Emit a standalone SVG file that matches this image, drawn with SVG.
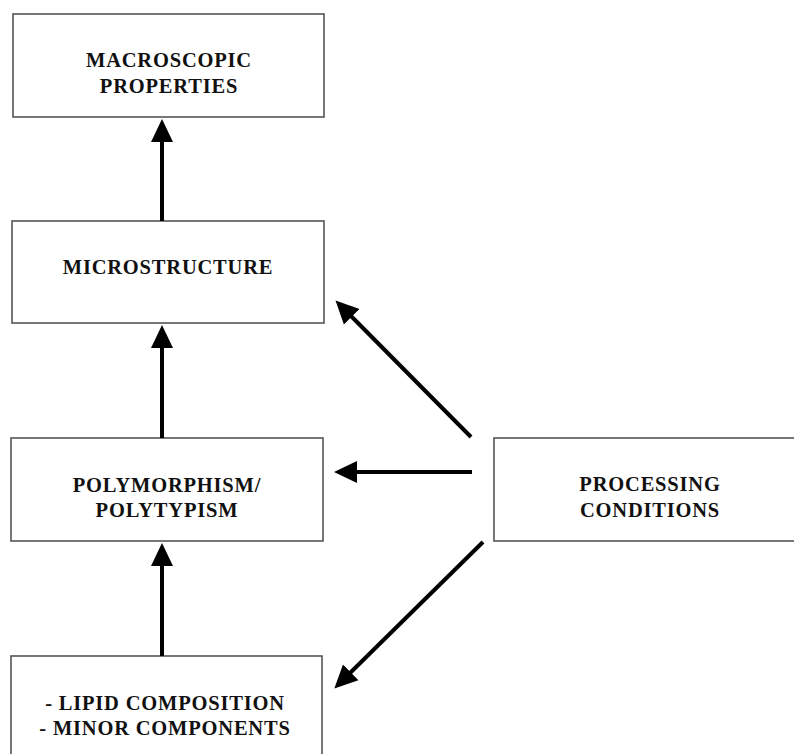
<svg xmlns="http://www.w3.org/2000/svg" width="794" height="754" viewBox="0 0 794 754">
<style>
.box{fill:#fff;stroke:#555;stroke-width:1.6}
.t{font-family:"Liberation Serif","Times New Roman",serif;font-weight:bold;font-size:20.5px;fill:#111;text-anchor:middle;letter-spacing:0.8px}
.a{stroke:#000;stroke-width:4;fill:none}
</style>
<defs>
<marker id="ah" markerUnits="userSpaceOnUse" markerWidth="24" markerHeight="24" viewBox="0 0 24 24" refX="1" refY="12" orient="auto">
<path d="M0,1 L23,12 L0,23 z" fill="#000"/>
</marker>
</defs>
<rect width="794" height="754" fill="#fff"/>
<g id="macroscopic">
<rect class="box" x="13" y="14" width="311" height="103"/>
<text class="t" x="169" y="67">MACROSCOPIC</text>
<text class="t" x="169" y="93">PROPERTIES</text>
</g>
<g id="microstructure">
<rect class="box" x="12" y="221" width="312" height="102"/>
<text class="t" x="168" y="274">MICROSTRUCTURE</text>
</g>
<g id="polymorphism">
<rect class="box" x="11" y="438" width="312" height="103"/>
<text class="t" x="167" y="492">POLYMORPHISM/</text>
<text class="t" x="167" y="517">POLYTYPISM</text>
</g>
<g id="lipid">
<rect class="box" x="11" y="656" width="311" height="110"/>
<text class="t" x="165" y="710">- LIPID COMPOSITION</text>
<text class="t" x="165" y="735">- MINOR COMPONENTS</text>
</g>
<g id="processing">
<rect class="box" x="494" y="438" width="310" height="103"/>
<text class="t" x="650" y="491">PROCESSING</text>
<text class="t" x="650" y="517">CONDITIONS</text>
</g>
<g id="connectors">
<line class="a" x1="162" y1="221" x2="162" y2="141" marker-end="url(#ah)"/>
<line class="a" x1="162" y1="438" x2="162" y2="347" marker-end="url(#ah)"/>
<line class="a" x1="162" y1="656" x2="162" y2="565" marker-end="url(#ah)"/>
<line class="a" x1="472" y1="472" x2="356" y2="472" marker-end="url(#ah)"/>
<line class="a" x1="471" y1="437" x2="351" y2="316" marker-end="url(#ah)"/>
<line class="a" x1="483" y1="542" x2="350" y2="673" marker-end="url(#ah)"/>
</g>
</svg>
